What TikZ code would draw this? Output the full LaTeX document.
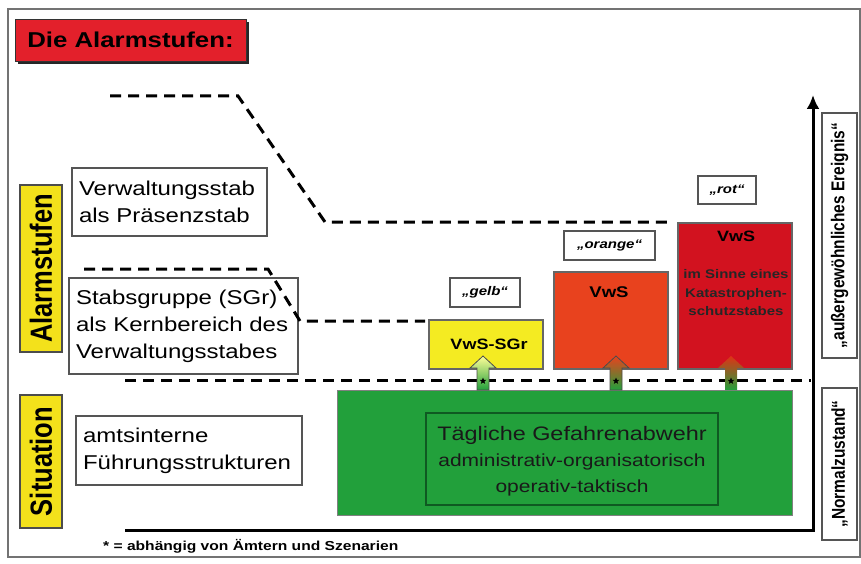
\documentclass[tikz,border=0pt]{standalone}
\usepackage{fontspec}
\setmainfont[FakeStretch=1.2]{Liberation Sans}
\newfontfamily\rotfont{Liberation Sans}
\usetikzlibrary{shapes.geometric,arrows.meta}
\definecolor{titlered}{HTML}{E3202B}
\definecolor{sideyellow}{HTML}{F3E11B}
\definecolor{vwsyellow}{HTML}{F4EB22}
\definecolor{vwsorange}{HTML}{E8421E}
\definecolor{vwsred}{HTML}{D2121F}
\definecolor{mygreen}{HTML}{22A03B}
\definecolor{darkgreen}{HTML}{0F5A22}
\definecolor{boxgray}{HTML}{555555}
\tikzset{
  textbox/.style={draw=boxgray, line width=1.5pt, align=left, inner sep=7pt,
    font=\fontsize{20}{27}\selectfont},
  sidebox/.style={draw=black!70, fill=sideyellow, line width=1.2pt, rotate=90,
    minimum height=42pt, inner sep=0pt, font=\rotfont\bfseries\fontsize{25.5}{28}\selectfont},
  rightbox/.style={draw=boxgray, line width=1.3pt, rotate=90,
    minimum height=35pt, inner sep=0pt, font=\rotfont\bfseries\fontsize{15.5}{18}\selectfont},
  vwsbox/.style={draw=black!60, line width=1.2pt, inner sep=0pt},
  lbl/.style={draw=boxgray, line width=1.5pt, fill=white, inner sep=0pt,
    font=\bfseries\itshape\fontsize{12.5}{14}\selectfont},
  dashline/.style={line width=3pt, dash pattern=on 11pt off 7pt},
  blockarrow/.style={draw=black!70, line width=0.8pt},
  starmark/.style={star, star points=5, star point ratio=2.3, fill=black, inner sep=0pt, minimum size=7pt}
}
\begin{document}
\begin{tikzpicture}[x=1pt,y=-1pt]
\useasboundingbox (0,0) rectangle (861,564);
% outer frame
\draw[black!55, line width=1.2pt] (8,9) rectangle (860,557);

% title
\fill[black!85] (18,22) rectangle (249,64);
\node[draw=black!80, fill=titlered, line width=0.8pt, minimum width=231pt, minimum height=42pt,
  inner sep=0pt, font=\bfseries\fontsize{21.5}{24}\selectfont] (title) at (130.5,40) {Die Alarmstufen:};

% side labels
\node[sidebox, minimum width=167pt] (alarm) at (41,268.5) {\scalebox{1}[1.2]{Alarmstufen}};
\node[sidebox, minimum width=133pt] (sit) at (41,461.5) {\scalebox{1}[1.2]{Situation}};

% text boxes
\node[textbox, minimum width=195pt, minimum height=68pt, text width=181pt] (vst) at (169.5,202)
  {Verwaltungsstab\\als Präsenzstab};
\node[textbox, minimum width=229pt, minimum height=96pt, text width=215pt] (sgr) at (183.5,326)
  {Stabsgruppe (SGr)\\als Kernbereich des\\Verwaltungsstabes};
\node[textbox, minimum width=226pt, minimum height=69pt, text width=212pt] (amt) at (189,450.5)
  {amtsinterne\\Führungsstrukturen};

% dashed level lines
\draw[dashline] (110,96) -- (238,96) -- (325,222) -- (672,222);
\draw[dashline] (84,269) -- (268,269) -- (300,321) -- (425,321);
\draw[dashline] (125,380) -- (811,380);

% green box
\node[draw=black!50, line width=1pt, fill=mygreen, minimum width=455pt, minimum height=125pt,
  inner sep=0pt] (green) at (565,452.5) {};
\node[draw=darkgreen, line width=1.5pt, minimum width=292pt, minimum height=92pt,
  inner sep=0pt] (inner) at (572,459) {};
\node[align=center, inner sep=0pt, text=black!90, font=\fontsize{17.5}{26}\selectfont] (innert) at (572,461)
  {{\fontsize{19.5}{26}\selectfont Tägliche Gefahrenabwehr}\\
   administrativ-organisatorisch\\
   operativ-taktisch};

% VwS boxes
\node[vwsbox, fill=vwsyellow, minimum width=114pt, minimum height=49pt] (gelb) at (486,344.5) {};
\node[font=\bfseries\fontsize{15}{17}\selectfont] (gelbt) at (489,344) {VwS-SGr};
\node[vwsbox, fill=vwsorange, minimum width=114pt, minimum height=97pt] (orange) at (611,320.5) {};
\node[font=\bfseries\fontsize{15.5}{17}\selectfont] (oranget) at (609,292) {VwS};
\node[vwsbox, fill=vwsred, minimum width=114pt, minimum height=146pt] (rot) at (735,296) {};
\node[font=\bfseries\fontsize{15}{17}\selectfont] (rott) at (736,236) {VwS};
\node[align=center, font=\bfseries\fontsize{12.5}{18.5}\selectfont, text=black!85] (rotdesc) at (736,293)
  {im Sinne eines\\Katastrophen-\\schutzstabes};

% level labels
\node[lbl, minimum width=70pt, minimum height=29pt] (lgelb) at (485,292.5) {„gelb“};
\node[lbl, minimum width=91pt, minimum height=29pt] (lorange) at (609.5,245.5) {„orange“};
\node[lbl, minimum width=58pt, minimum height=28pt] (lrot) at (727,190) {„rot“};

% block arrows
\shade[blockarrow, top color=yellow!40!white, bottom color=mygreen]
  (477,390) -- (477,368) -- (470,368) -- (483,356) -- (496,368) -- (489,368) -- (489,390) -- cycle;
\shade[blockarrow, top color=vwsorange, bottom color=mygreen]
  (610,390) -- (610,368) -- (603,368) -- (616,356) -- (629,368) -- (622,368) -- (622,390) -- cycle;
\shade[top color=vwsred!70!orange, bottom color=mygreen]
  (725,390) -- (725,368) -- (718,368) -- (731,356) -- (744,368) -- (737,368) -- (737,390) -- cycle;
\node[starmark] (s1) at (483,381) {};
\node[starmark] (s2) at (616,381) {};
\node[starmark] (s3) at (731,381) {};

% axes
\coordinate (o) at (813,530);
\coordinate (xa) at (125,530);
\coordinate (ya) at (813,95);
\draw[line width=3pt, -{Latex[length=14pt,width=13pt]}] (xa) -- (o) -- (ya);

% right boxes
\node[rightbox, minimum width=245pt] (ausser) at (839.5,235.5) {\scalebox{1}[1.2]{„außergewöhnliches Ereignis“}};
\node[rightbox, minimum width=152pt] (normal) at (839.5,464) {\scalebox{1}[1.2]{„Normalzustand“}};

% footnote
\node[anchor=base west, inner sep=0pt, font=\bfseries\fontsize{13}{15}\selectfont] (foot) at (103,550)
  {* = abhängig von Ämtern und Szenarien};
\end{tikzpicture}
\end{document}
